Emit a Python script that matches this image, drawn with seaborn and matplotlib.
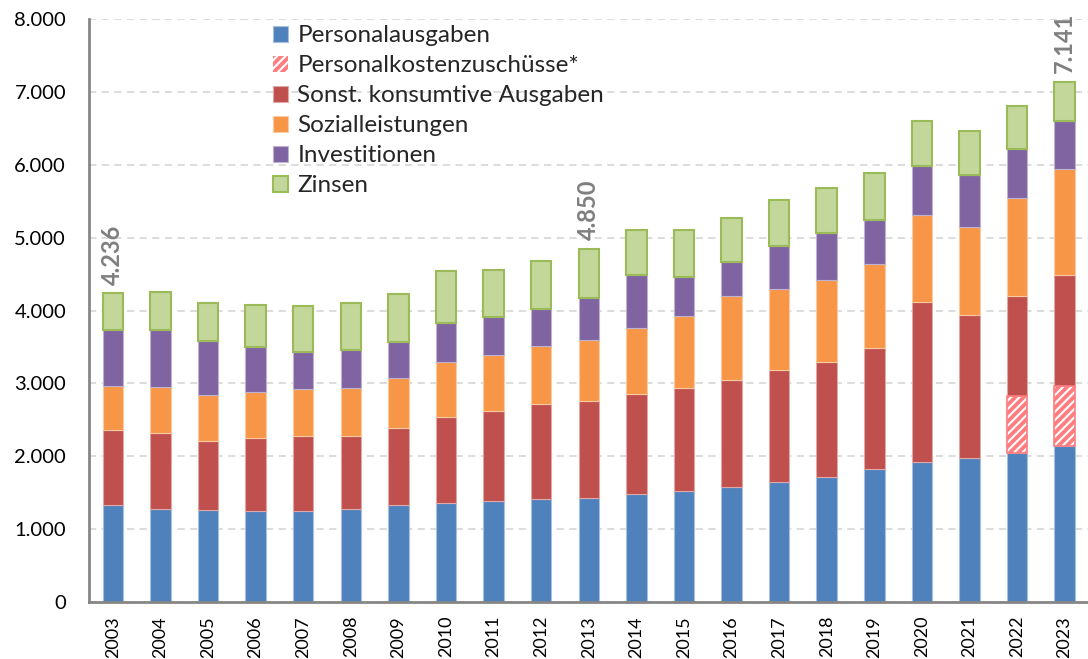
import matplotlib
matplotlib.use("Agg")
import matplotlib.pyplot as plt
from matplotlib.patches import Patch
from matplotlib.ticker import FuncFormatter, FixedLocator
import numpy as np
import pandas as pd
import seaborn as sns

years = [str(y) for y in range(2003, 2024)]
personalausgaben = [1331, 1281, 1267, 1249, 1249, 1276, 1331, 1358, 1386, 1413, 1432,
                    1486, 1523, 1578, 1645, 1711, 1821, 1917, 1976, 2049, 2136]
personalkostenzuschuesse = [0, 0, 0, 0, 0, 0, 0, 0, 0, 0, 0,
                            0, 0, 0, 0, 0, 0, 0, 0, 782, 828]
sonst_konsumtiv = [1025, 1043, 938, 1001, 1024, 1006, 1050, 1181, 1235, 1300, 1322,
                   1368, 1418, 1468, 1534, 1582, 1669, 2204, 1962, 1368, 1519]
sozialleistungen = [604, 626, 631, 636, 645, 659, 688, 750, 773, 795, 841,
                    910, 988, 1157, 1119, 1121, 1148, 1185, 1213, 1345, 1459]
investitionen = [777, 787, 750, 618, 517, 513, 503, 544, 521, 508, 581,
                 727, 526, 458, 588, 645, 608, 677, 704, 677, 662]
zinsen = [499, 517, 521, 567, 627, 653, 654, 705, 646, 668, 674,
          609, 645, 613, 630, 626, 637, 613, 604, 581, 537]
labelled_years = ["2003", "2013", "2023"]
label_values = ["4.236", "4.850", "7.141"]

series_names = ["Personalausgaben", "Personalkostenzuschüsse*", "Sonst. konsumtive Ausgaben",
                "Sozialleistungen", "Investitionen", "Zinsen"]
series_vals = [personalausgaben, personalkostenzuschuesse, sonst_konsumtiv,
               sozialleistungen, investitionen, zinsen]
face = ["#4F81BD", "#FF7C80", "#C0504D", "#F79646", "#8064A2", "#C4D79B"]
edge = ["#A7C0DE", "#FF7C80", "#E0A8A6", "#FBCBA3", "#BFB1D0", "#9BBB59"]

sns.set_theme(style="white")
plt.rcParams["font.family"] = ["Lato", "DejaVu Sans"]
plt.rcParams["hatch.linewidth"] = 1.5

fig = plt.figure(figsize=(10.88, 6.59), dpi=100)
ax = fig.add_axes([89 / 1088, 57 / 659, 999.5 / 1088, 583 / 659])

W = 0.43
bottom = np.zeros(len(years))
for i, (name, vals) in enumerate(zip(series_names, series_vals)):
    vals = np.array(vals, dtype=float)
    df = pd.DataFrame({"year": years, "v": vals, "b": bottom})
    if name.startswith("Personalkosten"):
        sub = df[df["v"] > 0]
        sns.barplot(data=sub, x="year", y="v", order=years, ax=ax, width=W,
                    color=face[i], saturation=1, bottom=sub["b"].values, edgecolor="white",
                    hatch="////", linewidth=0, errorbar=None, zorder=3)
        sns.barplot(data=sub, x="year", y="v", order=years, ax=ax, width=W,
                    color=face[i], saturation=1, bottom=sub["b"].values, fill=False,
                    edgecolor=face[i], linewidth=1.2, errorbar=None, zorder=4)
    else:
        lw = 1.5 if name == "Zinsen" else 0.8
        sns.barplot(data=df, x="year", y="v", order=years, ax=ax, width=W,
                    color=face[i], saturation=1, bottom=df["b"].values, edgecolor=edge[i],
                    linewidth=lw, errorbar=None, zorder=3)
    bottom = bottom + vals

totals = bottom
for y, lab in zip(labelled_years, label_values):
    idx = years.index(y)
    ax.annotate(lab, xy=(idx, totals[idx]), xytext=(0, 6), textcoords="offset points",
                rotation=90, ha="center", va="bottom", fontsize=17, color="#7F7F7F",
                fontweight="bold", zorder=5)

ax.set_ylim(0, 8000)
ax.set_xlim(-0.5, len(years) - 0.5)
ax.set_yticks(np.arange(0, 8001, 1000))
ax.yaxis.set_major_formatter(FuncFormatter(lambda v, p: f"{v:,.0f}".replace(",", ".")))
ax.yaxis.grid(True, linestyle=(0, (4, 3)), color="#D9D9D9", linewidth=1.3, zorder=0)
ax.set_axisbelow(True)
ax.set_xlabel("")
ax.set_ylabel("")

ax.set_xticks(range(len(years)))
ax.set_xticklabels(years, rotation=90, fontsize=13)
ax.xaxis.set_minor_locator(FixedLocator(np.arange(-0.5, len(years), 1.0)))
ax.tick_params(axis="x", which="major", length=0, pad=10, colors="black")
ax.tick_params(axis="x", which="minor", length=12, width=2, direction="inout", color="#868686")
ax.tick_params(axis="y", which="major", length=4.5, width=2, direction="out", color="#868686",
               labelsize=14.5, pad=12)
for lbl in ax.get_yticklabels():
    lbl.set_color("black")

for s in ["top", "right"]:
    ax.spines[s].set_visible(False)
for s in ["left", "bottom"]:
    ax.spines[s].set_color("#868686")
    ax.spines[s].set_linewidth(2)
    ax.spines[s].set_zorder(6)

handles = []
for i, name in enumerate(series_names):
    if name.startswith("Personalkosten"):
        handles.append(Patch(facecolor=face[i], edgecolor="white", hatch="////", linewidth=0))
    else:
        handles.append(Patch(facecolor=face[i], edgecolor=edge[i], linewidth=1.5 if i == 5 else 0.8))
leg = ax.legend(handles, series_names, loc="upper left", bbox_to_anchor=(0.174, 1.006),
                frameon=False, fontsize=17.5, handlelength=0.62, handleheight=0.62,
                handletextpad=0.4, labelspacing=0.37, borderaxespad=0)

fig.savefig("out.png", dpi=100)
